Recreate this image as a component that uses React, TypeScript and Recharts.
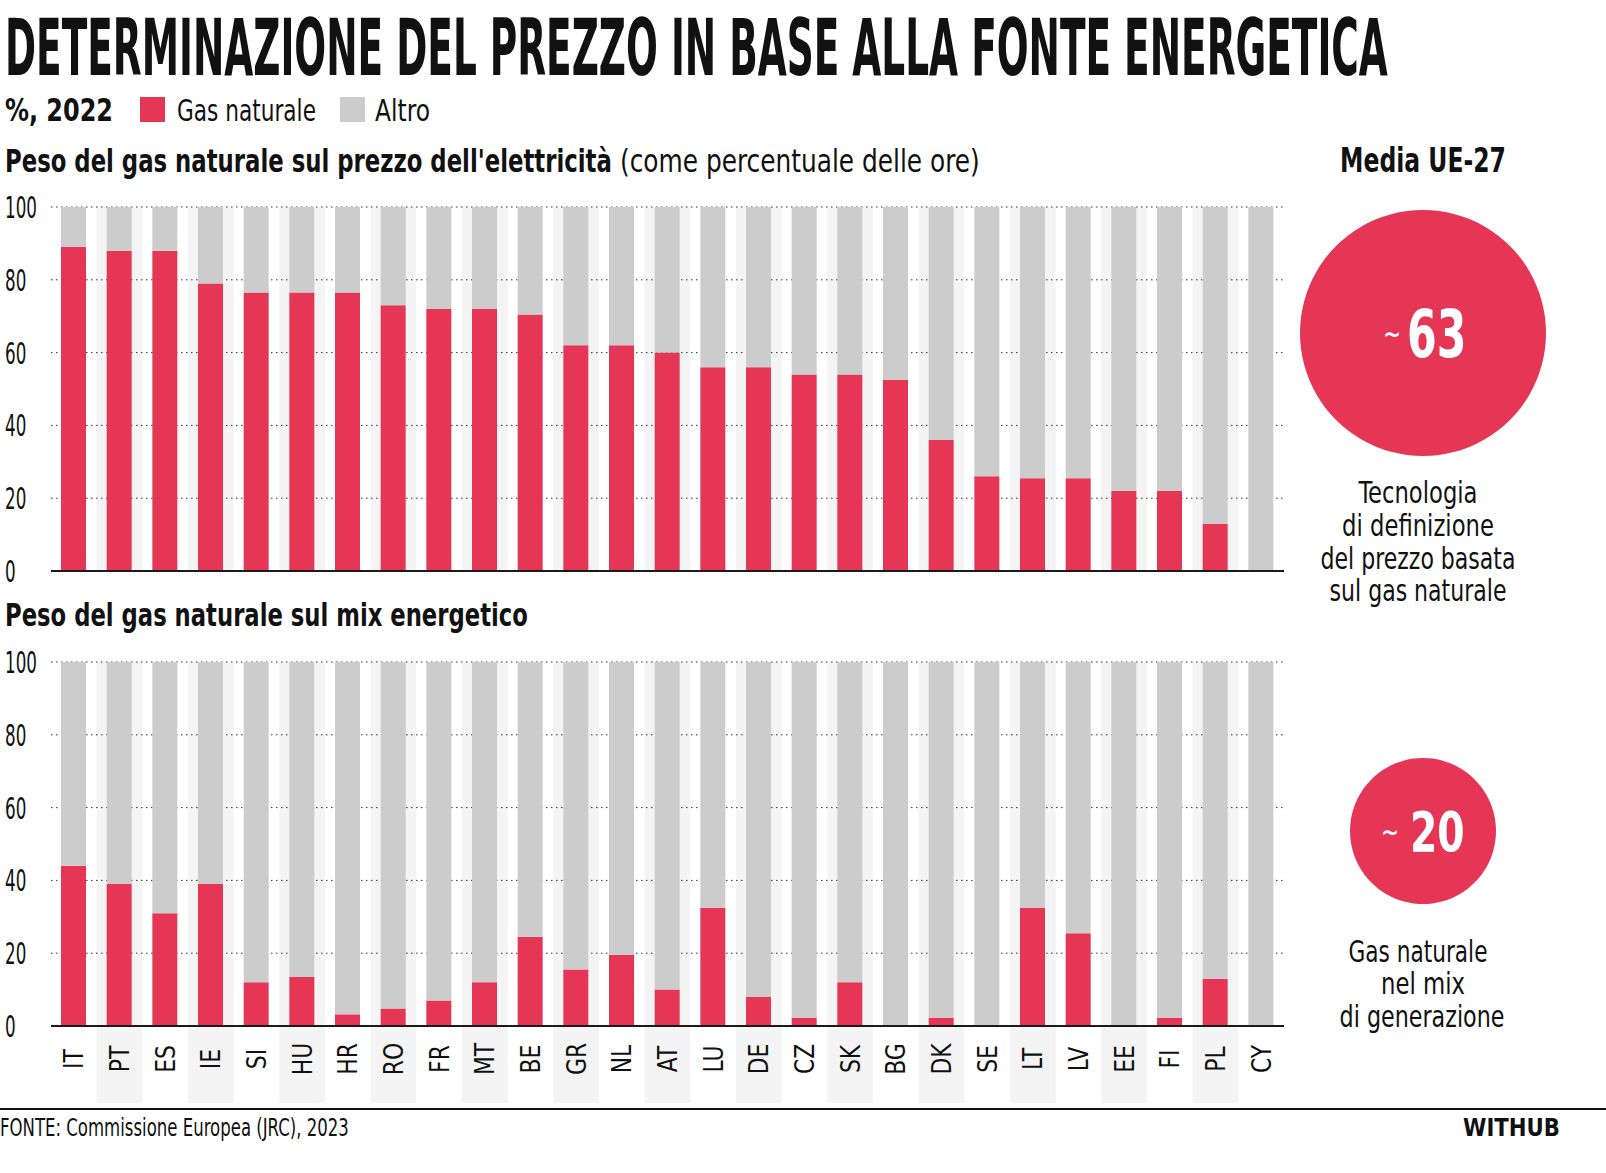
import React, { useLayoutEffect, useRef, useState } from 'react';
import {
  BarChart, Bar, XAxis, YAxis, CartesianGrid, ReferenceArea, ReferenceLine, PieChart, Pie, Cell
} from 'recharts';

// --- data ---
const countries = ['IT', 'PT', 'ES', 'IE', 'SI', 'HU', 'HR', 'RO', 'FR', 'MT', 'BE', 'GR', 'NL', 'AT',
  'LU', 'DE', 'CZ', 'SK', 'BG', 'DK', 'SE', 'LT', 'LV', 'EE', 'FI', 'PL', 'CY'];

// peso del gas naturale sul prezzo dell'elettricità (% delle ore)
const gasPrezzo = [89, 88, 88, 79, 76.5, 76.5, 76.5, 73, 72, 72, 70.5, 62, 62, 60,
  56, 56, 54, 54, 52.5, 36, 26, 25.5, 25.5, 22, 22, 13, 0];
const altroPrezzo = [11, 12, 12, 21, 23.5, 23.5, 23.5, 27, 28, 28, 29.5, 38, 38, 40,
  44, 44, 46, 46, 47.5, 64, 74, 74.5, 74.5, 78, 78, 87, 100];

// peso del gas naturale sul mix energetico
const gasMix = [44, 39, 31, 39, 12, 13.5, 3.2, 4.8, 7, 12, 24.5, 15.5, 19.5, 10,
  32.5, 8, 2.3, 12, 0, 2.3, 0, 32.5, 25.5, 0, 2.3, 13, 0];
const altroMix = [56, 61, 69, 61, 88, 86.5, 96.8, 95.2, 93, 88, 75.5, 84.5, 80.5, 90,
  67.5, 92, 97.7, 88, 100, 97.7, 100, 67.5, 74.5, 100, 97.7, 87, 100];

const yTicks = [0, 20, 40, 60, 80, 100];

const mediaPrezzo = [{ name: 'Tecnologia di definizione del prezzo', value: 63 }];
const mediaMix = [{ name: 'Gas naturale nel mix', value: 20 }];

const RED = '#e53656';
const GRAY = '#cccccc';
const STRIPE = '#f4f4f4';
const FONT = "'Liberation Sans Narrow','DejaVu Sans Condensed','Roboto Condensed','Liberation Sans',sans-serif";

const prezzoData = countries.map((code, i) => ({ code, gas: gasPrezzo[i], altro: altroPrezzo[i] }));
const mixData = countries.map((code, i) => ({ code, gas: gasMix[i], altro: altroMix[i] }));

const CHART_W = 1300;
const BAND = (CHART_W - 16 - 51) / countries.length;

// text squeezed horizontally to a given width (the reference uses a narrow face)
const FitText = ({ x, y, w, size, weight = 400, anchor = 'start', fill = '#111', children }: any) => {
  const ref = useRef<SVGTextElement>(null);
  const [sx, setSx] = useState(1);
  useLayoutEffect(() => {
    if (ref.current) {
      const n = ref.current.getComputedTextLength();
      if (n > 0) setSx(w / n);
    }
  }, [w, children]);
  return (
    <text ref={ref} x={0} y={0} transform={`translate(${x} ${y}) scale(${sx} 1)`} fontFamily={FONT}
      fontSize={size} fontWeight={weight} textAnchor={anchor} fill={fill}>
      {children}
    </text>
  );
};

const YTick = (props: any) => {
  const { y, payload } = props;
  return (
    <text x={0} y={0} transform={`translate(5 ${y}) scale(0.6 1)`} dominantBaseline="central"
      fontFamily={FONT} fontSize={31} fill="#111">
      {payload.value}
    </text>
  );
};

const XTick = (props: any) => {
  const { x, payload, index } = props;
  const base = 381;
  return (
    <g>
      {index % 2 === 1 && (
        <rect x={x - BAND / 2} y={base + 1} width={BAND} height={76} fill={STRIPE} />
      )}
      <text
        x={0}
        y={0}
        transform={`translate(${x} ${base + 33}) rotate(-90) scale(0.9 1)`}
        textAnchor="middle"
        dominantBaseline="central"
        fontFamily={FONT}
        fontSize={27}
        fill="#111"
      >
        {payload.value}
      </text>
    </g>
  );
};

const Stacked = ({ data, bottom, height, showAxis }: { data: any[]; bottom: number; height: number; showAxis: boolean }) => (
  <BarChart width={CHART_W} height={height} data={data} margin={{ top: 17, right: 16, bottom, left: 0 }}>
    {countries.filter((_, i) => i % 2 === 1).map((c) => (
      <ReferenceArea key={c} x1={c} x2={c} y1={0} y2={100} fill={STRIPE} fillOpacity={1} stroke="none" zIndex={-150} />
    ))}
    <CartesianGrid vertical={false} stroke="#333" strokeDasharray="1.5 3.5" />
    {showAxis ? (
      <XAxis dataKey="code" axisLine={false} tickLine={false} interval={0} height={79} tick={<XTick />} />
    ) : (
      <XAxis dataKey="code" hide />
    )}
    <YAxis domain={[0, 100]} ticks={yTicks} width={51} axisLine={false} tickLine={false} tick={<YTick />} />
    <Bar dataKey="gas" stackId="a" fill={RED} barSize={25} isAnimationActive={false} />
    <Bar dataKey="altro" stackId="a" fill={GRAY} barSize={25} isAnimationActive={false} />
    <ReferenceLine y={0} stroke="#1a1a1a" strokeWidth={2} />
  </BarChart>
);

const Bubble = ({ data, r, numSize, numScale, numDx, tildeDx }: { data: any[]; r: number; numSize: number; numScale: number; numDx: number; tildeDx: number }) => {
  const size = r * 2 + 10;
  const label = (p: any) => (
    <g>
      <text x={p.cx + tildeDx} y={p.cy + 10} textAnchor="middle" fontFamily={FONT} fontWeight={700} fontSize={24} fill="#fff">~</text>
      <text x={0} y={0} transform={`translate(${p.cx + numDx} ${p.cy + numSize * 0.36}) scale(${numScale} 1)`}
        fontFamily={FONT} fontWeight={700} fontSize={numSize} fill="#fff">
        {p.value}
      </text>
    </g>
  );
  return (
    <PieChart width={size} height={size} margin={{ top: 0, right: 0, bottom: 0, left: 0 }}>
      <Pie data={data} dataKey="value" cx={size / 2} cy={size / 2} outerRadius={r} innerRadius={0}
        startAngle={90} endAngle={-270} stroke="none" label={label} labelLine={false} isAnimationActive={false}>
        {data.map((d) => <Cell key={d.name} fill={RED} />)}
      </Pie>
    </PieChart>
  );
};

export default function App() {
  return (
    <div style={{ position: 'absolute', left: 0, top: 0, width: 1606, height: 1173, background: '#fff', overflow: 'hidden' }}>
      <div style={{ position: 'absolute', left: 0, top: 190 }}>
        <Stacked data={prezzoData} bottom={19} height={400} showAxis={false} />
      </div>
      <div style={{ position: 'absolute', left: 0, top: 645 }}>
        <Stacked data={mixData} bottom={0} height={460} showAxis={true} />
      </div>
      <div style={{ position: 'absolute', left: 1423 - 128, top: 333 - 128 }}>
        <Bubble data={mediaPrezzo} r={123} numSize={66} numScale={0.72} numDx={-16} tildeDx={-31} />
      </div>
      <div style={{ position: 'absolute', left: 1423 - 78, top: 831 - 78 }}>
        <Bubble data={mediaMix} r={73} numSize={56} numScale={0.78} numDx={-13} tildeDx={-33} />
      </div>
      <svg width={1606} height={1173} style={{ position: 'absolute', left: 0, top: 0, pointerEvents: 'none' }}>
        <FitText x={5} y={75} w={1383} size={78} weight={700}>DETERMINAZIONE DEL PREZZO IN BASE ALLA FONTE ENERGETICA</FitText>
        <FitText x={5} y={121} w={108} size={32} weight={700}>%, 2022</FitText>
        <rect x={140} y={97} width={25} height={25} fill={RED} />
        <FitText x={177} y={121} w={139} size={31}>Gas naturale</FitText>
        <rect x={340} y={97} width={25} height={25} fill={GRAY} />
        <FitText x={375} y={121} w={55} size={31}>Altro</FitText>
        <FitText x={5} y={172} w={607} size={32} weight={700}>Peso del gas naturale sul prezzo dell'elettricità</FitText>
        <FitText x={620} y={172} w={360} size={32}>(come percentuale delle ore)</FitText>
        <FitText x={1423} y={172} w={166} size={34} weight={700} anchor="middle">Media UE-27</FitText>
        <FitText x={5} y={626} w={523} size={32} weight={700}>Peso del gas naturale sul mix energetico</FitText>
        <FitText x={1418} y={503} w={119} size={30} anchor="middle">Tecnologia</FitText>
        <FitText x={1418} y={536} w={152} size={30} anchor="middle">di definizione</FitText>
        <FitText x={1418} y={569} w={195} size={30} anchor="middle">del prezzo basata</FitText>
        <FitText x={1418} y={601} w={177} size={30} anchor="middle">sul gas naturale</FitText>
        <FitText x={1418} y={962} w={139} size={30} anchor="middle">Gas naturale</FitText>
        <FitText x={1423} y={994} w={84} size={30} anchor="middle">nel mix</FitText>
        <FitText x={1422} y={1027} w={165} size={30} anchor="middle">di generazione</FitText>
        <rect x={0} y={1108} width={1606} height={2} fill="#111" />
        <FitText x={0} y={1136} w={349} size={24}>FONTE: Commissione Europea (JRC), 2023</FitText>
        <FitText x={1463} y={1136} w={97} size={24} weight={900}>WITHUB</FitText>
      </svg>
    </div>
  );
}
